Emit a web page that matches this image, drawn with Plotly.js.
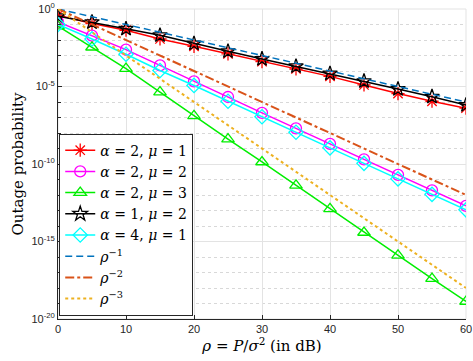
<!DOCTYPE html>
<html>
<head>
<meta charset="utf-8">
<script src="https://cdn.plot.ly/plotly-3.0.1.min.js"></script>
<style>html,body{margin:0;padding:0;background:#fff;}#chart{width:473px;height:361px;}</style>
</head>
<body>
<div id="chart"></div>
<script>
// SNR in dB
const snr = [0, 5, 10, 15, 20, 25, 30, 35, 40, 45, 50, 55, 60];
// Outage probability, values
const a2m1 = [0.398, 0.115, 0.0427, 0.0117, 3.9e-3, 1.26e-3, 4.0e-4, 1.35e-4, 4.5e-5, 1.26e-5, 3.5e-6, 1.12e-6, 4.0e-7];
const a2m2 = [0.148, 0.019, 2.4e-3, 2.3e-4, 2.14e-5, 2.1e-6, 2.0e-7, 2.0e-8, 2.0e-9, 2.0e-10, 2.0e-11, 2.0e-12, 2.0e-13];
const a2m3 = [0.0776, 3.4e-3, 1.41e-4, 4.4e-6, 1.26e-7, 4.0e-9, 1.35e-10, 4.2e-12, 1.26e-13, 3.8e-15, 1.26e-16, 4.0e-18, 1.35e-19];
const a1m2 = [0.339, 0.141, 0.0525, 0.02, 5.9e-3, 1.86e-3, 6.0e-4, 2.0e-4, 6.8e-5, 2.2e-5, 6.8e-6, 2.2e-6, 6.3e-7];
const a4m1 = [0.1, 0.0117, 1.2e-3, 1.07e-4, 1.17e-5, 1.12e-6, 1.12e-7, 1.12e-8, 1.1e-9, 1.1e-10, 1.1e-11, 1.1e-12, 1.1e-13];
// Reference slopes
const rho1 = [1, 3.16e-1, 1e-1, 3.16e-2, 1e-2, 3.16e-3, 1e-3, 3.16e-4, 1e-4, 3.16e-5, 1e-5, 3.16e-6, 1e-6];
const rho2 = [1, 1e-1, 1e-2, 1e-3, 1e-4, 1e-5, 1e-6, 1e-7, 1e-8, 1e-9, 1e-10, 1e-11, 1e-12];
const rho3 = [1, 3.16e-2, 1e-3, 3.16e-5, 1e-6, 3.16e-8, 1e-9, 3.16e-11, 1e-12, 3.16e-14, 1e-15, 3.16e-17, 1e-18];
// Tick labels
const yTickVals = [1e-20, 1e-15, 1e-10, 1e-5, 1];
const yTickText = ['10<sup>-20</sup>', '10<sup>-15</sup>', '10<sup>-10</sup>', '10<sup>-5</sup>', '10<sup>0</sup>'];
const xTickVals = [0, 10, 20, 30, 40, 50, 60];

const names = ['<i>α</i> = 2, <i>μ</i> = 1', '<i>α</i> = 2, <i>μ</i> = 2', '<i>α</i> = 2, <i>μ</i> = 3',
               '<i>α</i> = 1, <i>μ</i> = 2', '<i>α</i> = 4, <i>μ</i> = 1',
               '<i>ρ</i><sup>−1</sup>', '<i>ρ</i><sup>−2</sup>', '<i>ρ</i><sup>−3</sup>'];

const serif = 'DejaVu Serif, Liberation Serif, serif';

function curve(y, name, color, symbol) {
  return {x: snr, y: y, name: name, type: 'scatter', mode: 'lines+markers',
          line: {color: color, width: 1.5},
          marker: {symbol: symbol, size: 11, color: color, line: {color: color, width: 1.3}}};
}
function ref(y, name, color, dash, w) {
  return {x: snr, y: y, name: name, type: 'scatter', mode: 'lines',
          line: {color: color, width: w, dash: dash}};
}

const data = [
  curve(a2m1, names[0], '#ff0000', 'asterisk-open'),
  curve(a2m2, names[1], '#ff00ff', 'circle-open'),
  curve(a2m3, names[2], '#00ee00', 'triangle-up-open'),
  curve(a1m2, names[3], '#000000', 'star-open'),
  curve(a4m1, names[4], '#00ffff', 'diamond-open'),
  ref(rho1, names[5], '#0072bd', '7px,4px', 1.5),
  ref(rho2, names[6], '#d95319', 'dashdot', 2),
  ref(rho3, names[7], '#edb120', 'dot', 2)
];

const layout = {
  width: 473, height: 361,
  margin: {l: 58, r: 7, t: 9, b: 42},
  paper_bgcolor: '#ffffff', plot_bgcolor: '#ffffff',
  showlegend: true,
  font: {family: 'Liberation Sans, Arial, sans-serif', size: 11, color: '#262626'},
  xaxis: {
    range: [0, 60], tickvals: xTickVals, ticks: 'inside', ticklen: 4, tickcolor: '#262626',
    showgrid: true, gridcolor: '#e3e3e3', gridwidth: 1,
    showline: true, linecolor: '#262626', linewidth: 1, mirror: false, zeroline: false,
    tickfont: {size: 11, color: '#262626'},
    title: {text: '<i>ρ</i> = <i>P</i>/<i>σ</i><sup>2</sup> (in dB)', standoff: 3,
            font: {family: serif, size: 15, color: '#000'}}
  },
  yaxis: {
    type: 'log', range: [-20, 0], tickmode: 'array', tickvals: yTickVals, ticktext: yTickText,
    ticks: 'inside', ticklen: 4, tickcolor: '#262626',
    showgrid: true, gridcolor: '#e3e3e3', gridwidth: 1,
    minor: {tickmode: 'linear', tick0: 0, dtick: 1, showgrid: true, gridcolor: '#d8d8d8', griddash: 'dot', ticks: 'inside', ticklen: 3, tickcolor: '#262626'},
    showline: true, linecolor: '#262626', linewidth: 1, zeroline: false,
    tickfont: {size: 11, color: '#262626'},
    title: {text: 'Outage probability', standoff: 4,
            font: {family: serif, size: 15, color: '#000'}}
  },
  shapes: [
    {type: 'rect', xref: 'paper', yref: 'paper', x0: 0, x1: 1, y0: 0, y1: 1, line: {color: '#e3e3e3', width: 1}, layer: 'below'}
  ],
  legend: {
    x: 0.003, y: 0.011, xanchor: 'left', yanchor: 'bottom',
    bgcolor: '#ffffff', bordercolor: '#262626', borderwidth: 1,
    font: {family: serif, size: 14, color: '#000'},
    tracegroupgap: 0, itemwidth: 30
  }
};

Plotly.newPlot('chart', data, layout, {displayModeBar: false, staticPlot: true});
</script>
</body>
</html>
